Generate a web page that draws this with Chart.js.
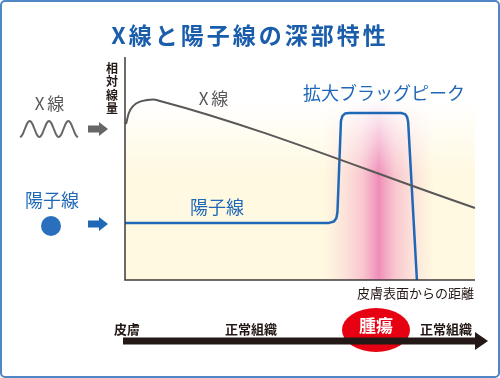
<!DOCTYPE html>
<html>
<head>
<meta charset="utf-8">
<script src="https://cdn.jsdelivr.net/npm/chart.js@4.4.0/dist/chart.umd.min.js"></script>
<style>
  html, body { margin: 0; padding: 0; background: #fff; }
  #wrap { width: 500px; height: 378px; position: relative; }
</style>
</head>
<body>
<div id="wrap"><canvas id="canvas"></canvas></div>
<script>
// depth from the skin surface (0-100) and relative dose (0-100)
var xrayDepth = [0.3, 1.1, 2.3, 4.3, 6.3, 8, 10, 100];
var xrayDose  = [70, 74.9, 78, 80, 80.7, 80.9, 80.3, 32.3];

var protonDepth = [0, 58.3, 59.7, 60.4, 60.7, 61.7, 62.1, 62.9, 64, 78.9, 80, 80.6, 80.9, 83.4];
var protonDose  = [25.6, 25.6, 26.2, 27.8, 30.5, 71.3, 73.5, 74.7, 74.9, 74.9, 74.4, 73.1, 70.9, 0];

var titleText = 'X線と陽子線の深部特性';
var yLabel = ['相', '対', '線', '量'];
var xLabel = '皮膚表面からの距離';
var tissueLabels = ['皮膚', '正常組織', '腫瘍', '正常組織'];

var JP = '"Noto Sans CJK JP", "Noto Sans", sans-serif';
var BLUE = '#1f68b8';
var GRAY = '#595757';
var DARK = '#231815';

function toPoints(xs, ys) {
  return xs.map(function(x, i) { return {x: x, y: ys[i]}; });
}

var decor = {
  id: 'decor',
  beforeDatasetsDraw: function(chart) {
    var ctx = chart.ctx, a = chart.chartArea;
    var sx = chart.scales.x;
    ctx.save();
    // pale yellow background
    ctx.fillStyle = '#fff9e1';
    ctx.fillRect(a.left, a.top, a.right - a.left, a.bottom - a.top);
    // pink band around the peak
    var cx = sx.getPixelForValue(72.5);
    var g = ctx.createLinearGradient(cx - 55, 0, cx + 55, 0);
    g.addColorStop(0, 'rgba(245,160,190,0)');
    g.addColorStop(0.18, 'rgba(242,150,190,0.22)');
    g.addColorStop(0.35, 'rgba(238,125,180,0.4)');
    g.addColorStop(0.5, 'rgba(234,105,170,0.75)');
    g.addColorStop(0.65, 'rgba(238,125,180,0.4)');
    g.addColorStop(0.82, 'rgba(242,150,190,0.22)');
    g.addColorStop(1, 'rgba(245,160,190,0)');
    ctx.fillStyle = g;
    ctx.fillRect(cx - 55, a.top, 110, a.bottom - a.top);
    // fade to white at the top
    var w = ctx.createLinearGradient(0, 100, 0, 175);
    w.addColorStop(0, 'rgba(255,255,255,1)');
    w.addColorStop(1, 'rgba(255,255,255,0)');
    ctx.fillStyle = w;
    ctx.fillRect(a.left, a.top, a.right - a.left, 175 - a.top);
    ctx.restore();
  },
  afterDatasetsDraw: function(chart) {
    var ctx = chart.ctx, a = chart.chartArea;
    ctx.save();
    // frame
    ctx.strokeStyle = '#4f86c6';
    ctx.lineWidth = 2;
    ctx.beginPath();
    ctx.roundRect(1, 1, 498, 376, 4);
    ctx.stroke();

    // title
    ctx.fillStyle = '#1a5dab';
    ctx.font = 'bold 23px ' + JP;
    ctx.textAlign = 'center';
    ctx.textBaseline = 'middle';
    ctx.letterSpacing = '3px';
    ctx.fillText(titleText, 250, 35);
    ctx.letterSpacing = '0px';

    // axes
    ctx.strokeStyle = '#3e3a39';
    ctx.lineWidth = 1.5;
    ctx.beginPath();
    ctx.moveTo(a.left, a.top);
    ctx.lineTo(a.left, a.bottom);
    ctx.lineTo(a.right, a.bottom);
    ctx.stroke();

    // axis titles
    ctx.fillStyle = DARK;
    ctx.font = 'bold 12px ' + JP;
    yLabel.forEach(function(c, i) { ctx.fillText(c, 112, 68 + i * 13.5); });
    ctx.font = '13px ' + JP;
    ctx.textAlign = 'right';
    ctx.fillText(xLabel, 474, 293);

    // line labels
    ctx.textAlign = 'center';
    ctx.font = '17px ' + JP;
    ctx.fillStyle = GRAY;
    ctx.letterSpacing = '3px';
    ctx.fillText('X線', 215, 99);
    ctx.fillText('X線', 51, 104);
    ctx.letterSpacing = '0px';
    ctx.fillStyle = BLUE;
    ctx.font = '18px ' + JP;
    ctx.fillText('拡大ブラッグピーク', 384, 93);
    ctx.fillText('陽子線', 217, 207);
    ctx.fillText('陽子線', 52, 200);

    // wave icon
    ctx.strokeStyle = '#666';
    ctx.lineWidth = 2;
    ctx.beginPath();
    for (var t = 0; t <= 60; t++) {
      var px = 20 + t * 58 / 60;
      var py = 129 + 8 * Math.cos(t / 60 * Math.PI * 6);
      if (t === 0) ctx.moveTo(px, py); else ctx.lineTo(px, py);
    }
    ctx.stroke();

    function arrow(x, y, color) {
      ctx.fillStyle = color;
      ctx.beginPath();
      ctx.moveTo(x, y - 3.5);
      ctx.lineTo(x + 11, y - 3.5);
      ctx.lineTo(x + 11, y - 7);
      ctx.lineTo(x + 20, y);
      ctx.lineTo(x + 11, y + 7);
      ctx.lineTo(x + 11, y + 3.5);
      ctx.lineTo(x, y + 3.5);
      ctx.closePath();
      ctx.fill();
    }
    arrow(88, 129, '#666');
    arrow(88, 224, BLUE);

    // proton dot
    ctx.fillStyle = '#2a6fbd';
    ctx.beginPath();
    ctx.arc(51, 226, 10, 0, Math.PI * 2);
    ctx.fill();

    // tumour ellipse and depth arrow
    ctx.fillStyle = '#e60012';
    ctx.beginPath();
    ctx.ellipse(376, 330, 34, 22, 0, 0, Math.PI * 2);
    ctx.fill();
    ctx.fillStyle = DARK;
    ctx.fillRect(123, 337.5, 353, 7);
    ctx.beginPath();
    ctx.moveTo(475, 332);
    ctx.lineTo(488, 341);
    ctx.lineTo(475, 350);
    ctx.closePath();
    ctx.fill();

    ctx.font = 'bold 13px ' + JP;
    ctx.fillText(tissueLabels[0], 127, 329);
    ctx.fillText(tissueLabels[1], 251, 329);
    ctx.fillText(tissueLabels[3], 446, 329);
    ctx.fillStyle = '#fff';
    ctx.font = 'bold 17px ' + JP;
    ctx.fillText(tissueLabels[2], 376, 326);
    ctx.restore();
  }
};

window.onload = function() {
  var ctx = document.getElementById('canvas').getContext('2d');
  window.myChart = new Chart(ctx, {
    type: 'line',
    data: {
      datasets: [{
        label: 'X線',
        data: toPoints(xrayDepth, xrayDose),
        borderColor: '#595757',
        borderWidth: 2,
        pointRadius: 0,
        cubicInterpolationMode: 'monotone',
        clip: false
      }, {
        label: '陽子線',
        data: toPoints(protonDepth, protonDose),
        borderColor: BLUE,
        borderWidth: 2.5,
        pointRadius: 0,
        tension: 0,
        borderJoinStyle: 'round',
        clip: false
      }]
    },
    options: {
      responsive: true,
      maintainAspectRatio: false,
      animation: false,
      layout: { padding: { left: 125, right: 25, top: 57, bottom: 98 } },
      scales: {
        x: { type: 'linear', min: 0, max: 100, display: false },
        y: { type: 'linear', min: 0, max: 100, display: false }
      },
      plugins: {
        legend: { display: false },
        title: { display: false },
        tooltip: { enabled: false }
      }
    },
    plugins: [decor]
  });
};
</script>
</body>
</html>
